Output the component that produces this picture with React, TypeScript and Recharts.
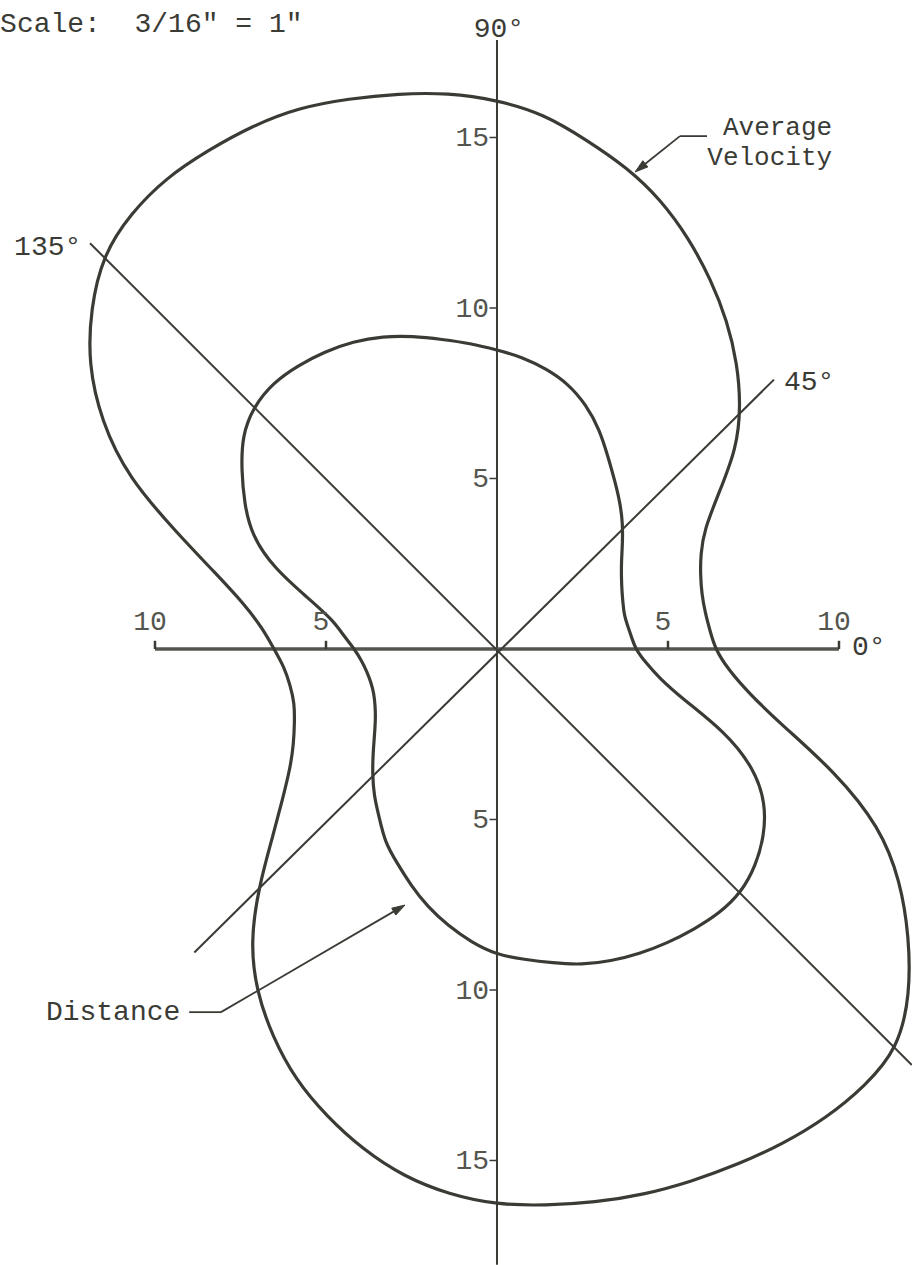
import { ComposedChart, Line, XAxis, YAxis, ReferenceLine, ReferenceDot } from 'recharts';

// polar readings, angle in degrees counter-clockwise from 0°
const angles = [0, 5, 10, 15, 20, 25, 30, 35, 40, 45, 50, 55, 60, 65, 70, 75, 80, 85,
  90, 95, 100, 105, 110, 115, 120, 125, 130, 135, 140, 145, 150, 155, 160, 165, 170, 175,
  180, 185, 190, 195, 200, 205, 210, 215, 220, 225, 230, 235, 240, 245, 250, 255, 260, 265,
  270, 275, 280, 285, 290, 295, 300, 305, 310, 315, 320, 325, 330, 335, 340, 345, 350, 355];
const velocityRadius = [6.38, 6.25, 6.18, 6.2, 6.33, 6.57, 7.0, 7.9, 9.15, 10.08, 10.93, 11.74,
  12.51, 13.28, 14.02, 14.63, 15.15, 15.75, 16.1, 16.37, 16.54, 16.71, 16.9, 16.93, 16.89, 16.87,
  16.67, 16.31, 15.51, 14.59, 13.36, 11.9, 9.96, 8.5, 7.49, 6.88, 6.52, 6.24, 6.14, 6.13, 6.3,
  6.56, 6.98, 7.65, 8.56, 9.85, 11.22, 12.26, 13.13, 13.94, 14.58, 15.19, 15.71, 16.06, 16.3, 16.38,
  16.48, 16.57, 16.62, 16.68, 16.75, 16.79, 16.74, 16.58, 15.77, 14.71, 13.62, 12.36, 10.51, 8.63,
  7.48, 6.78];
const distanceRadius = [4.05, 3.95, 3.88, 3.85, 3.92, 4.03, 4.2, 4.44, 4.79, 5.2, 5.6, 6.01,
  6.5, 7.1, 7.62, 8.05, 8.34, 8.59, 8.77, 9.0, 9.22, 9.5, 9.76, 9.95, 10.07, 10.15, 10.19, 10.06,
  9.73, 9.12, 8.53, 7.92, 6.95, 5.7, 4.87, 4.5, 4.17, 3.97, 3.86, 3.81, 3.83, 3.93, 4.1, 4.37, 4.73,
  5.15, 5.6, 6.01, 6.55, 6.92, 7.37, 7.83, 8.24, 8.63, 8.97, 9.14, 9.35, 9.59, 9.74, 9.86, 9.96,
  10.04, 10.12, 10.1, 9.88, 9.54, 9.07, 8.3, 7.1, 5.6, 4.8, 4.35];

const xTicks = [-10, -5, 5, 10];
const yTicks = [15, 10, 5, -5, -10, -15];

const INK = '#3b3b36';
const GREY = '#55554f';
const FONT = '"Liberation Mono", "DejaVu Sans Mono", monospace';

const toXY = (radius: number[]) =>
  angles.map((a, i) => ({
    x: radius[i] * Math.cos((a * Math.PI) / 180),
    y: radius[i] * Math.sin((a * Math.PI) / 180),
  }));

const velocityPts = toXY(velocityRadius);
const distancePts = toXY(distanceRadius);

const TextMark = ({ cx, cy, text, dx = 0, dy = 0, anchor = 'start', color = INK, size = 28, gap = 25 }: any) => {
  const lines: string[] = Array.isArray(text) ? text : [text];
  return (
    <text x={cx + dx} y={cy + dy} textAnchor={anchor} fontFamily={FONT} fontSize={size} fill={color}
      style={{ whiteSpace: 'pre' }}>
      {lines.map((t, i) => (
        <tspan key={i} x={cx + dx} dy={i === 0 ? 0 : gap}>{t}</tspan>
      ))}
    </text>
  );
};

const Arrow = ({ cx, cy, angle }: any) => {
  const L = 13;
  const W = 8;
  const a = (angle * Math.PI) / 180;
  const bx = cx - L * Math.cos(a);
  const by = cy - L * Math.sin(a);
  const nx = -Math.sin(a) * (W / 2);
  const ny = Math.cos(a) * (W / 2);
  return <polygon points={`${cx},${cy} ${bx + nx},${by + ny} ${bx - nx},${by - ny}`} fill={INK} stroke={INK} strokeWidth={1} />;
};

const label = (text: string | string[], extra: any = {}) => (p: any) => <TextMark cx={p.cx} cy={p.cy} text={text} {...extra} />;

export default function App() {
  return (
    <div style={{ position: 'absolute', left: 0, top: 0, background: '#fff' }}>
      <ComposedChart width={912} height={1265} margin={{ top: 0, right: 0, bottom: 0, left: 0 }}>
        <XAxis type="number" dataKey="x" domain={[-14.532, 12.135]} allowDataOverflow hide />
        <YAxis type="number" dataKey="y" domain={[-18.065, 19.032]} allowDataOverflow hide />

        {/* axes */}
        <ReferenceLine segment={[{ x: 0, y: -18.06 }, { x: 0, y: 17.86 }]} stroke={INK} strokeWidth={2} />
        <ReferenceLine segment={[{ x: -10, y: 0 }, { x: 10, y: 0 }]} stroke={GREY} strokeWidth={3.5} />
        <ReferenceLine segment={[{ x: -8.85, y: -8.9 }, { x: 8.1, y: 7.9 }]} stroke={INK} strokeWidth={2} />
        <ReferenceLine segment={[{ x: -11.9, y: 11.9 }, { x: 12.13, y: -12.2 }]} stroke={INK} strokeWidth={2} />

        {xTicks.map((v) => (
          <ReferenceLine key={`xt${v}`} segment={[{ x: v, y: 0 }, { x: v, y: 0.24 }]} stroke={INK} strokeWidth={2.5} />
        ))}
        {yTicks.map((v) => (
          <ReferenceLine key={`yt${v}`} segment={[{ x: -0.22, y: v }, { x: 0, y: v }]} stroke={INK} strokeWidth={1.5} />
        ))}
        {xTicks.map((v) => (
          <ReferenceDot key={`xl${v}`} x={v} y={0} r={0}
            shape={label(String(Math.abs(v)), { anchor: 'middle', dx: -5, dy: -19, color: GREY })} />
        ))}
        {yTicks.map((v) => (
          <ReferenceDot key={`yl${v}`} x={0} y={v} r={0}
            shape={label(String(Math.abs(v)), { anchor: 'end', dx: -8, dy: 9, color: GREY })} />
        ))}

        {/* curves */}
        <Line data={velocityPts} dataKey="y" type="basisClosed" stroke={INK} strokeWidth={3.2}
          dot={false} activeDot={false} isAnimationActive={false} />
        <Line data={distancePts} dataKey="y" type="basisClosed" stroke={INK} strokeWidth={3.2}
          dot={false} activeDot={false} isAnimationActive={false} />

        {/* angle labels */}
        <ReferenceDot x={0} y={17.95} r={0} shape={label('90°', { anchor: 'middle', dx: 2 })} />
        <ReferenceDot x={-14.12} y={11.55} r={0} shape={label('135°')} />
        <ReferenceDot x={8.39} y={7.6} r={0} shape={label('45°')} />
        <ReferenceDot x={10.38} y={-0.18} r={0} shape={label('0°')} />
        <ReferenceDot x={-14.5} y={18.1} r={0} shape={label('Scale:  3/16" = 1"', { dx: -1 })} />

        {/* annotations */}
        <ReferenceDot x={9.8} y={15.07} r={0} shape={label(['Average', 'Velocity'], { anchor: 'end', size: 26, gap: 30 })} />
        <ReferenceLine segment={[{ x: 5.35, y: 15.04 }, { x: 6.14, y: 15.04 }]} stroke={INK} strokeWidth={1.8} />
        <ReferenceLine segment={[{ x: 5.35, y: 15.04 }, { x: 4.2, y: 14.12 }]} stroke={INK} strokeWidth={1.8} />
        <ReferenceDot x={4.04} y={13.99} r={0} shape={(p: any) => <Arrow cx={p.cx} cy={p.cy} angle={141.3} />} />

        <ReferenceDot x={-13.19} y={-10.88} r={0} shape={label('Distance')} />
        <ReferenceLine segment={[{ x: -9.0, y: -10.65 }, { x: -8.07, y: -10.65 }]} stroke={INK} strokeWidth={1.8} />
        <ReferenceLine segment={[{ x: -8.07, y: -10.65 }, { x: -2.85, y: -7.6 }]} stroke={INK} strokeWidth={1.8} />
        <ReferenceDot x={-2.69} y={-7.51} r={0} shape={(p: any) => <Arrow cx={p.cx} cy={p.cy} angle={-30.2} />} />
      </ComposedChart>
    </div>
  );
}
